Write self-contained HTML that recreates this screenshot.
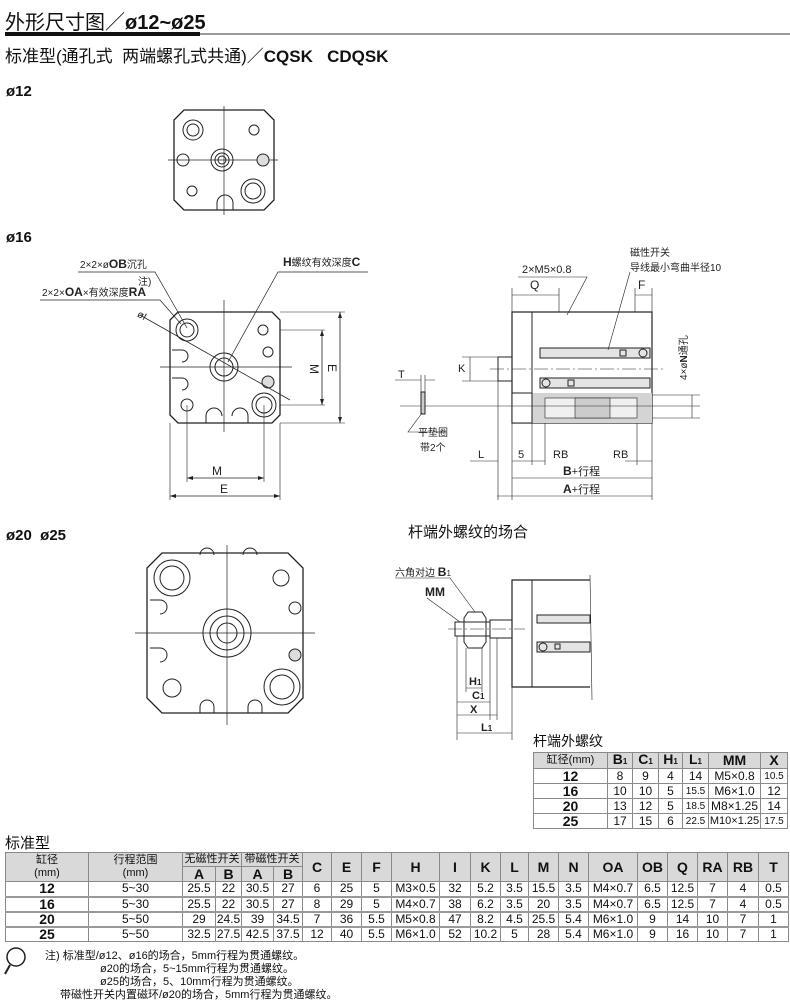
<!DOCTYPE html>
<html><head><meta charset="utf-8"><style>
body{margin:0;width:790px;height:1004px;background:#fff;position:relative;overflow:hidden;font-family:"Liberation Sans","Noto Sans CJK SC",sans-serif;color:#111}
.t{position:absolute;white-space:nowrap}
table{position:absolute;border-collapse:collapse;table-layout:fixed;font-family:"Liberation Sans","Noto Sans CJK SC",sans-serif}
td{border:1px solid #8a8a8a;text-align:center;padding:0;font-size:12px;line-height:13px;overflow:hidden;white-space:nowrap}
.h td{background:#d9d9d9;font-weight:bold;font-size:14px}
td.sm{font-weight:normal;font-size:11px}
td.b{font-weight:bold;font-size:14px}
tr.r td{border-top:2px solid #999}
.s{font-size:8px}
svg{position:absolute;left:0;top:0}
</style></head><body>
<div class="t" style="left:5px;top:6px;font-size:20px">外形尺寸图／<b>ø12~ø25</b></div>
<div style="position:absolute;left:5px;top:32px;width:195px;height:4px;background:#111"></div>
<div style="position:absolute;left:200px;top:33px;width:590px;height:2px;background:#999"></div>
<div class="t" style="left:5px;top:42px;font-size:17px">标准型(通孔式&nbsp; 两端螺孔式共通)／<b>CQSK&nbsp;&nbsp; CDQSK</b></div>
<div class="t" style="left:6px;top:83px;font-size:15px;font-weight:bold">ø12</div>
<div class="t" style="left:6px;top:229px;font-size:15px;font-weight:bold">ø16</div>
<div class="t" style="left:6px;top:527px;font-size:15px;font-weight:bold">ø20&nbsp; ø25</div>
<div class="t" style="left:408px;top:521px;font-size:15px">杆端外螺纹的场合</div>
<div class="t" style="left:533px;top:731px;font-size:14px">杆端外螺纹</div>
<div class="t" style="left:5px;top:832px;font-size:15px">标准型</div>

<svg width="790" height="1004" viewBox="0 0 790 1004" font-family="Liberation Sans, Noto Sans CJK SC, sans-serif" fill="none" stroke="#222" stroke-width="1">
<path d="M184 110 H264 L274 120 V200 L264 210 H184 L174 200 V120 Z" stroke-width="1.3"/>
<line x1="224" y1="106" x2="224" y2="215" stroke-width=".7"/>
<line x1="168" y1="160" x2="278" y2="160" stroke-width=".7"/>
<circle cx="193" cy="130" r="10"/><circle cx="193" cy="130" r="6"/>
<circle cx="254" cy="130" r="5"/>
<circle cx="222" cy="160" r="11"/><circle cx="222" cy="160" r="7"/><circle cx="222" cy="160" r="4"/>
<circle cx="183" cy="160" r="6"/><circle cx="263" cy="160" r="6" fill="#ddd"/>
<circle cx="192" cy="191" r="5"/><circle cx="253" cy="191" r="12"/><circle cx="253" cy="191" r="8"/>
<path d="M217 210 V203 A8 8 0 0 1 233 203 V210"/>
<path d="M178 312 H272 L280 320 V415 L272 423 H178 L170 415 V320 Z" stroke-width="1.3"/>
<line x1="224" y1="300" x2="224" y2="432" stroke-width=".7"/>
<line x1="160" y1="367" x2="292" y2="367" stroke-width=".7"/>
<circle cx="187" cy="330" r="11"/><circle cx="187" cy="330" r="7"/>
<circle cx="263" cy="330" r="5"/>
<circle cx="224" cy="367" r="14"/><circle cx="224" cy="367" r="9"/>
<circle cx="264" cy="405" r="12"/><circle cx="264" cy="405" r="8"/>
<circle cx="187" cy="405" r="6"/>
<circle cx="268" cy="352" r="5"/><circle cx="268" cy="382" r="6" fill="#ddd"/>
<path d="M172 350 h10 a6 6 0 0 1 0 12 M172 378 h10 a6 6 0 0 1 0 12"/>
<path d="M206 423 v-7 a8 8 0 0 1 16 0 M232 416 a8 8 0 0 1 16 0 v7"/>
<line x1="140" y1="315" x2="290" y2="400" stroke-width=".8"/>
<text x="136" y="318" fill="#222" stroke="none" font-size="10" transform="rotate(30 140 318)">øI</text>
<path d="M280 312 H345 M280 423 H345 M280 330 H325 M280 405 H325" stroke-width=".6"/>
<path d="M340 312 V423 M322 330 V405" stroke-width=".8"/>
<path d="M170 423 V500 M280 423 V500 M187 405 V482 M264 405 V482" stroke-width=".6"/>
<path d="M187 478 H264 M170 496 H280" stroke-width=".8"/>
<g fill="#222" stroke="none">
<path d="M340 312 l-2 6 h4z M340 423 l-2 -6 h4z M322 330 l-2 6 h4z M322 405 l-2 -6 h4z M187 478 l6 -2 v4z M264 478 l-6 -2 v4z M170 496 l6 -2 v4z M280 496 l-6 -2 v4z"/>
<text x="212" y="475" font-size="12">M</text><text x="220" y="493" font-size="12">E</text>
<text x="310" y="372" font-size="12" transform="rotate(90 314 368)">M</text>
<text x="328" y="372" font-size="12" transform="rotate(90 332 368)">E</text>
<text x="80" y="268" font-size="10">2×2×ø<tspan font-weight="bold" font-size="12">OB</tspan>沉孔</text>
<text x="138" y="285" font-size="10">注)</text>
<text x="42" y="296" font-size="10">2×2×<tspan font-weight="bold" font-size="12">OA</tspan>×有效深度<tspan font-weight="bold" font-size="12">RA</tspan></text>
<text x="283" y="266" font-size="10"><tspan font-weight="bold" font-size="12">H</tspan>螺纹有效深度<tspan font-weight="bold" font-size="12">C</tspan></text>
</g>
<path d="M78 272 H155 L187 328 M40 300 H160 L181 324 M368 272 H278 L228 362" stroke-width=".7"/>
<rect x="512" y="312" width="140" height="111" stroke-width="1.2"/>
<line x1="532" y1="312" x2="532" y2="423"/>
<rect x="498" y="357" width="14" height="24"/>
<line x1="490" y1="369" x2="665" y2="369" stroke-dasharray="14 3 2 3" stroke-width=".6"/>
<rect x="540" y="348" width="110" height="10" fill="#e4e4e4"/>
<rect x="540" y="378" width="110" height="10" fill="#e4e4e4"/>
<rect x="532" y="393" width="120" height="30" fill="#d4d4d4" stroke="none"/>
<rect x="545" y="398" width="92" height="20" fill="#f0f0f0" stroke-width=".6"/>
<rect x="575" y="398" width="35" height="20" fill="#ccc" stroke-width=".6"/>
<rect x="512" y="393" width="20" height="30" fill="#fff"/>
<line x1="400" y1="406" x2="700" y2="406" stroke-width=".5"/>
<circle cx="643" cy="353" r="4"/><circle cx="546" cy="383" r="4"/>
<rect x="620" y="350" width="6" height="6"/><rect x="568" y="380" width="6" height="6"/>
<path d="M512 295 H559 M635 295 H652 M512 312 V288 M559 312 V288 M635 312 V288 M652 312 V288" stroke-width=".6"/>
<path d="M518 277 H587 L567 315 M630 272 L608 350" stroke-width=".6"/>
<path d="M470 357 V381 M462 357 H498 M462 381 H498 M692 395 V418 M652 395 H700 M652 418 H700" stroke-width=".6"/>
<rect x="421" y="392" width="4" height="22" fill="#ccc"/>
<path d="M395 380 H421 M425 380 H435 M421 375 V392 M425 375 V392 M422 413 L408 432 H440" stroke-width=".6"/>
<path d="M470 461 H498 M512 461 H532 M532 461 H545 M625 461 H652 M498 381 V500 M512 423 V500 M532 423 V465 M545 423 V465 M637 423 V465 M652 423 V500 M512 478 H652 M497 496 H652" stroke-width=".6"/>
<g fill="#222" stroke="none">
<text x="530" y="289" font-size="12">Q</text><text x="638" y="289" font-size="12">F</text>
<text x="522" y="273" font-size="11">2×M5×0.8</text>
<text x="630" y="256" font-size="10">磁性开关</text>
<text x="630" y="271" font-size="10">导线最小弯曲半径10</text>
<text x="458" y="372" font-size="11">K</text><text x="398" y="378" font-size="11">T</text>
<text x="418" y="436" font-size="10">平垫圈</text><text x="420" y="451" font-size="10">带2个</text>
<text x="478" y="458" font-size="11">L</text><text x="518" y="458" font-size="11">5</text>
<text x="553" y="458" font-size="11">RB</text><text x="613" y="458" font-size="11">RB</text>
<text x="563" y="475" font-size="11"><tspan font-weight="bold" font-size="12">B</tspan>+行程</text>
<text x="563" y="493" font-size="11"><tspan font-weight="bold" font-size="12">A</tspan>+行程</text>
<text x="655" y="356" font-size="10" transform="rotate(-90 683 352)">4×ø<tspan font-weight="bold">N</tspan>通孔</text>
</g>
<path d="M162 553 H288 L303 568 V698 L288 713 H162 L147 698 V568 Z" stroke-width="1.3"/>
<line x1="227" y1="545" x2="227" y2="725" stroke-width=".7"/>
<line x1="135" y1="633" x2="315" y2="633" stroke-width=".7"/>
<circle cx="172" cy="578" r="18"/><circle cx="172" cy="578" r="12"/>
<circle cx="281" cy="578" r="8"/>
<circle cx="227" cy="633" r="24"/><circle cx="227" cy="633" r="17"/><circle cx="227" cy="633" r="10"/>
<circle cx="282" cy="687" r="18"/><circle cx="282" cy="687" r="12"/>
<circle cx="172" cy="688" r="9"/>
<circle cx="295" cy="608" r="6"/><circle cx="295" cy="655" r="6" fill="#ddd"/>
<path d="M150 600 h10 a7 7 0 0 1 0 14 M150 648 h10 a7 7 0 0 1 0 14"/>
<path d="M200 555 a7 7 0 0 1 14 0 M243 555 a7 7 0 0 1 14 0 M200 713 v-6 a7 7 0 0 1 14 0 v6 M248 713 v-6 a7 7 0 0 1 14 0 v6"/>
<path d="M590 580 H512 V687 H590" stroke-width="1.2"/>
<line x1="532" y1="580" x2="532" y2="687"/>
<rect x="537" y="615" width="53" height="8" fill="#e4e4e4"/>
<rect x="537" y="642" width="53" height="10" fill="#e4e4e4"/>
<circle cx="543" cy="647" r="4"/><rect x="555" y="644" width="5" height="5"/>
<path d="M590 575 L592 700" stroke-width=".6"/>
<rect x="490" y="620" width="22" height="18"/>
<rect x="455" y="622" width="35" height="14"/>
<path d="M468 612 h14 l4 6 v24 l-4 6 h-14 l-4 -6 v-24z"/>
<line x1="448" y1="629" x2="525" y2="629" stroke-dasharray="14 3 2 3" stroke-width=".6"/>
<path d="M395 578 H450 L475 612 M427 598 L460 622" stroke-width=".6"/>
<path d="M457 636 V740 M466 648 V692 M482 648 V692 M490 638 V720 M497 638 V720 M512 687 V740 M466 688 H482 M457 702 H490 M457 715 H497 M457 733 H512" stroke-width=".6"/>
<g fill="#222" stroke="none">
<text x="395" y="576" font-size="10">六角对边 <tspan font-weight="bold" font-size="12">B</tspan><tspan font-size="8">1</tspan></text>
<text x="425" y="596" font-size="12" font-weight="bold">MM</text>
<text x="469" y="685" font-size="11" font-weight="bold">H<tspan font-size="8">1</tspan></text>
<text x="472" y="699" font-size="11" font-weight="bold">C<tspan font-size="8">1</tspan></text>
<text x="470" y="713" font-size="11" font-weight="bold">X</text>
<text x="481" y="731" font-size="11" font-weight="bold">L<tspan font-size="8">1</tspan></text>
</g>
<circle cx="16" cy="957" r="9" stroke-width="1.5"/>
<line x1="10" y1="965" x2="5" y2="974" stroke-width="2"/>
</svg>

<table style="left:533px;top:752px;width:254px">
<colgroup><col style="width:74px"><col style="width:25px"><col style="width:26px"><col style="width:24px"><col style="width:26px"><col style="width:52px"><col style="width:27px"></colgroup>
<tr class="h" style="height:15px"><td class="sm">缸径(mm)</td><td>B<span class="s">1</span></td><td>C<span class="s">1</span></td><td>H<span class="s">1</span></td><td>L<span class="s">1</span></td><td>MM</td><td>X</td></tr>
<tr style="height:15px"><td class="b">12</td><td>8</td><td>9</td><td>4</td><td>14</td><td>M5×0.8</td><td style="font-size:10px">10.5</td></tr>
<tr style="height:15px"><td class="b">16</td><td>10</td><td>10</td><td>5</td><td style="font-size:10px">15.5</td><td>M6×1.0</td><td>12</td></tr>
<tr style="height:15px"><td class="b">20</td><td>13</td><td>12</td><td>5</td><td style="font-size:10px">18.5</td><td>M8×1.25</td><td>14</td></tr>
<tr style="height:15px"><td class="b">25</td><td>17</td><td>15</td><td>6</td><td style="font-size:10px">22.5</td><td style="font-size:11px">M10×1.25</td><td style="font-size:10px">17.5</td></tr>
</table>

<table style="left:5px;top:852px;width:783px">
<colgroup><col style="width:83px"><col style="width:94px"><col style="width:33px"><col style="width:26px"><col style="width:32px"><col style="width:29px"><col style="width:29px"><col style="width:30px"><col style="width:30px"><col style="width:48px"><col style="width:31px"><col style="width:30px"><col style="width:28px"><col style="width:30px"><col style="width:30px"><col style="width:49px"><col style="width:30px"><col style="width:30px"><col style="width:30px"><col style="width:31px"><col style="width:30px"></colgroup>
<tr class="h" style="height:14px"><td class="sm" rowspan="2">缸径<br>(mm)</td><td class="sm" rowspan="2">行程范围<br>(mm)</td><td class="sm" colspan="2">无磁性开关</td><td class="sm" colspan="2">带磁性开关</td><td rowspan="2">C</td><td rowspan="2">E</td><td rowspan="2">F</td><td rowspan="2">H</td><td rowspan="2">I</td><td rowspan="2">K</td><td rowspan="2">L</td><td rowspan="2">M</td><td rowspan="2">N</td><td rowspan="2">OA</td><td rowspan="2">OB</td><td rowspan="2">Q</td><td rowspan="2">RA</td><td rowspan="2">RB</td><td rowspan="2">T</td></tr>
<tr class="h" style="height:15px"><td>A</td><td>B</td><td>A</td><td>B</td></tr>
<tr style="height:15px"><td class="b">12</td><td>5~30</td><td>25.5</td><td>22</td><td>30.5</td><td>27</td><td>6</td><td>25</td><td>5</td><td>M3×0.5</td><td>32</td><td>5.2</td><td>3.5</td><td>15.5</td><td>3.5</td><td>M4×0.7</td><td>6.5</td><td>12.5</td><td>7</td><td>4</td><td>0.5</td></tr>
<tr class="r" style="height:15px"><td class="b">16</td><td>5~30</td><td>25.5</td><td>22</td><td>30.5</td><td>27</td><td>8</td><td>29</td><td>5</td><td>M4×0.7</td><td>38</td><td>6.2</td><td>3.5</td><td>20</td><td>3.5</td><td>M4×0.7</td><td>6.5</td><td>12.5</td><td>7</td><td>4</td><td>0.5</td></tr>
<tr class="r" style="height:15px"><td class="b">20</td><td>5~50</td><td>29</td><td>24.5</td><td>39</td><td>34.5</td><td>7</td><td>36</td><td>5.5</td><td>M5×0.8</td><td>47</td><td>8.2</td><td>4.5</td><td>25.5</td><td>5.4</td><td>M6×1.0</td><td>9</td><td>14</td><td>10</td><td>7</td><td>1</td></tr>
<tr class="r" style="height:15px"><td class="b">25</td><td>5~50</td><td>32.5</td><td>27.5</td><td>42.5</td><td>37.5</td><td>12</td><td>40</td><td>5.5</td><td>M6×1.0</td><td>52</td><td>10.2</td><td>5</td><td>28</td><td>5.4</td><td>M6×1.0</td><td>9</td><td>16</td><td>10</td><td>7</td><td>1</td></tr>
</table>

<div class="t" style="left:45px;top:947px;font-size:11px">注) 标准型/ø12、ø16的场合，5mm行程为贯通螺纹。</div>
<div class="t" style="left:100px;top:960px;font-size:11px">ø20的场合，5~15mm行程为贯通螺纹。</div>
<div class="t" style="left:100px;top:973px;font-size:11px">ø25的场合，5、10mm行程为贯通螺纹。</div>
<div class="t" style="left:60px;top:986px;font-size:11px">带磁性开关内置磁环/ø20的场合，5mm行程为贯通螺纹。</div>
</body></html>
